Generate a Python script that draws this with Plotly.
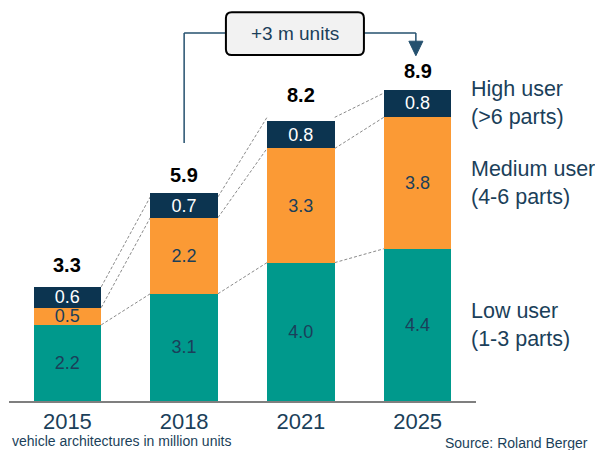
import plotly.graph_objects as go

years = ["2015", "2018", "2021", "2025"]
low_user = [2.2, 3.1, 4.0, 4.4]
medium_user = [0.5, 2.2, 3.3, 3.8]
high_user = [0.6, 0.7, 0.8, 0.8]
totals = [3.3, 5.9, 8.2, 8.9]
segment_names = ["Low user<br>(1-3 parts)", "Medium user<br>(4-6 parts)", "High user<br>(>6 parts)"]
callout_text = "+3 m units"
note_text = "vehicle architectures in million units"
source_text = "Source: Roland Berger"

TEAL = "#00998C"
ORANGE = "#FB9A35"
NAVY = "#0C3450"
TXT = "#1B3F5A"
LINE = "#24506E"
FONT = "Liberation Sans"

x = list(range(len(years)))
bw = 0.58

fig = go.Figure()
series = [(low_user, TEAL, TXT), (medium_user, ORANGE, TXT), (high_user, NAVY, "white")]
for vals, col, tcol in series:
    fig.add_trace(go.Bar(
        x=x, y=vals, width=bw,
        marker=dict(color=col, line=dict(width=0)),
        text=[f"{v:.1f}" for v in vals],
        textposition="inside", insidetextanchor="middle",
        textfont=dict(color=tcol, size=18, family=FONT),
        constraintext="none",
        showlegend=False, hoverinfo="skip"))

# totals above bars
for i, t in enumerate(totals):
    fig.add_annotation(x=i, y=t, text=f"<b>{t:.1f}</b>", showarrow=False,
                       yanchor="bottom", yshift=9,
                       font=dict(size=20, color="black", family=FONT))

# dashed connectors between bars
levels = [low_user,
          [a + b for a, b in zip(low_user, medium_user)],
          totals]
for lv in levels:
    for i in range(len(x) - 1):
        fig.add_shape(type="line", x0=i + bw / 2, y0=lv[i], x1=i + 1 - bw / 2, y1=lv[i + 1],
                      line=dict(color="#8a8a8a", width=1, dash="3px,2px"), layer="below")

# segment labels on right, centred on last bar's segments
base = 0
for vals, name in zip([low_user, medium_user, high_user], segment_names):
    mid = base + vals[-1] / 2
    base += vals[-1]
    fig.add_annotation(x=3.44, y=mid, xref="x", yref="y", text=name, showarrow=False,
                       xanchor="left", yanchor="middle", align="left",
                       font=dict(size=21.5, color=TXT, family=FONT))

# callout: +3 m units
bx0, bx1, by0, by1 = 1.358, 2.54, 10.0, 11.24
rx, ry = 0.05, 0.17
ly = 10.64
fig.add_shape(type="line", x0=1, y0=7.46, x1=1, y1=ly, line=dict(color=LINE, width=1.5))
fig.add_shape(type="line", x0=1, y0=ly, x1=bx0, y1=ly, line=dict(color=LINE, width=1.5))
fig.add_shape(type="line", x0=bx1, y0=ly, x1=2.985, y1=ly, line=dict(color=LINE, width=1.5))
fig.add_shape(type="line", x0=2.985, y0=ly, x1=2.985, y1=10.36, line=dict(color=LINE, width=1.5))
fig.add_shape(type="path", path="M 2.925 10.4 L 3.045 10.4 L 2.985 9.98 Z",
              fillcolor=LINE, line=dict(color=LINE, width=1))
box = (f"M {bx0+rx} {by0} L {bx1-rx} {by0} Q {bx1} {by0} {bx1} {by0+ry} "
       f"L {bx1} {by1-ry} Q {bx1} {by1} {bx1-rx} {by1} L {bx0+rx} {by1} "
       f"Q {bx0} {by1} {bx0} {by1-ry} L {bx0} {by0+ry} Q {bx0} {by0} {bx0+rx} {by0} Z")
fig.add_shape(type="path", path=box, fillcolor="#F2F2F2", line=dict(color="black", width=2))
fig.add_annotation(x=(bx0 + bx1) / 2, y=(by0 + by1) / 2, text=callout_text, showarrow=False,
                   font=dict(size=19, color=TXT, family=FONT))

fig.add_annotation(x=0.002, y=-0.102, xref="paper", yref="paper", text=note_text, showarrow=False,
                   xanchor="left", yanchor="middle", font=dict(size=14, color=TXT, family=FONT))
fig.add_annotation(x=1.244, y=-0.107, xref="paper", yref="paper", text=source_text, showarrow=False,
                   xanchor="right", yanchor="middle", font=dict(size=14, color=TXT, family=FONT))

# page body has an 8px margin, so the figure is 8px smaller and shifted
fig.update_layout(
    barmode="stack", width=595, height=442,
    margin=dict(l=1, r=127, t=0, b=49),
    plot_bgcolor="white", paper_bgcolor="white",
    font=dict(family=FONT, color=TXT),
    xaxis=dict(tickmode="array", tickvals=x, ticktext=years, range=[-0.5, 3.5],
               showgrid=False, zeroline=False, showline=True, linecolor="#7F7F7F", linewidth=2,
               tickfont=dict(size=22, color=TXT, family=FONT)),
    yaxis=dict(range=[0, 11.36], visible=False),
)

fig.write_html("out.html")
